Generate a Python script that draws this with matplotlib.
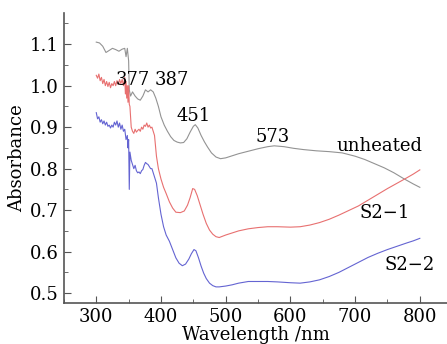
import numpy as np
import matplotlib
matplotlib.use("Agg")
import matplotlib.pyplot as plt
from matplotlib.ticker import MultipleLocator

# unheated
wl_u = [300, 305, 310, 315, 320, 325, 330, 335, 340, 344, 346, 348, 350, 351, 353, 356, 360, 364, 368, 372,
        376, 380, 384, 388, 392, 396, 400, 405, 410, 415, 420, 425, 430, 435, 440, 445, 450, 453, 457, 462,
        467, 472, 478, 485, 492, 500, 510, 520, 535, 550, 565, 575, 590, 605, 620, 640, 660, 680, 700, 715,
        730, 745, 760, 775, 790, 800]
abs_u = [1.105, 1.103, 1.095, 1.08, 1.085, 1.09, 1.087, 1.083, 1.088, 1.09, 1.07, 1.09, 1.06, 0.99, 0.975,
         0.985, 0.975, 0.968, 0.965, 0.975, 0.99, 0.985, 0.99, 0.985, 0.97, 0.95, 0.925, 0.905, 0.89, 0.877,
         0.868, 0.864, 0.862, 0.863, 0.872, 0.888, 0.902, 0.906, 0.898, 0.88, 0.865, 0.852, 0.838, 0.828,
         0.824, 0.826, 0.831, 0.836, 0.842, 0.848, 0.853, 0.855, 0.853, 0.849, 0.846, 0.843, 0.841, 0.838,
         0.83, 0.822, 0.812, 0.802, 0.79, 0.776, 0.763, 0.755]

# S2-1
wl_1 = [300, 302, 304, 306, 308, 310, 312, 314, 316, 318, 320, 322, 324, 326, 328, 330, 332, 334, 336, 338,
        340, 342, 344, 345, 346, 347, 348, 349, 350, 351, 352, 354, 356, 358, 360, 362, 364, 366, 368, 370,
        372, 374, 376, 378, 380, 382, 384, 386, 388, 390, 393, 396, 400, 404, 408, 413, 418, 423, 430, 436,
        441, 445, 449, 452, 456, 460, 465, 470, 475, 480, 485, 490, 495, 500, 510, 520, 535, 550, 565, 580,
        600, 615, 630, 645, 660, 675, 690, 705, 720, 735, 750, 765, 780, 790, 800]
abs_1 = [1.025, 1.018, 1.028, 1.012, 1.02, 1.005, 1.015, 1.0, 1.01, 0.998, 1.008, 0.995, 1.005, 1.0, 1.01,
         1.0, 1.012, 1.003, 1.015, 1.005, 1.015, 1.0, 1.02, 0.98, 1.01, 0.97, 1.0, 0.96, 1.0, 0.955, 0.95,
         0.9, 0.89, 0.885, 0.895, 0.888, 0.892, 0.895, 0.89, 0.9, 0.895, 0.905, 0.902, 0.91, 0.9, 0.905,
         0.898, 0.9, 0.89, 0.88, 0.83, 0.8, 0.775, 0.755, 0.74, 0.72, 0.705, 0.695, 0.694, 0.698, 0.712,
         0.73, 0.752, 0.75, 0.735, 0.715, 0.69, 0.668, 0.652, 0.642, 0.636, 0.634, 0.637, 0.64, 0.645, 0.65,
         0.655, 0.658, 0.66, 0.66, 0.659, 0.66, 0.664, 0.67, 0.678, 0.688, 0.699, 0.71, 0.724, 0.738, 0.752,
         0.765, 0.778, 0.787, 0.797]

# S2-2
wl_2 = [300, 302, 304, 306, 308, 310, 312, 314, 316, 318, 320, 322, 324, 326, 328, 330, 332, 334, 336, 338,
        340, 342, 344, 346, 348, 349, 350, 351, 352, 354, 356, 358, 360, 362, 364, 366, 368, 370, 372, 374,
        376, 378, 380, 382, 384, 386, 388, 390, 393, 396, 400, 404, 408, 413, 418, 423, 428, 433, 438, 443,
        447, 451, 454, 458, 462, 466, 470, 475, 480, 485, 490, 500, 510, 520, 535, 550, 565, 580, 600, 615,
        630, 645, 660, 675, 690, 705, 720, 735, 750, 765, 780, 790, 800]
abs_2 = [0.935, 0.92, 0.925, 0.912, 0.918, 0.908, 0.915, 0.905, 0.912, 0.902, 0.905, 0.898, 0.905, 0.9,
         0.912, 0.905, 0.915, 0.9, 0.91, 0.895, 0.905, 0.89, 0.895, 0.87, 0.88, 0.85, 0.87, 0.75, 0.84, 0.82,
         0.81, 0.8, 0.808, 0.795, 0.79, 0.792, 0.788, 0.795, 0.798, 0.808, 0.815, 0.812, 0.81, 0.805, 0.8,
         0.8, 0.79, 0.78, 0.765, 0.73, 0.69, 0.66, 0.64, 0.625, 0.605, 0.585, 0.572, 0.566, 0.57, 0.582,
         0.595, 0.605, 0.602, 0.585, 0.565, 0.548, 0.535, 0.524, 0.518, 0.515, 0.515, 0.517, 0.52, 0.524,
         0.528, 0.528, 0.528, 0.527, 0.525, 0.524, 0.527, 0.532, 0.54, 0.55, 0.562, 0.574, 0.586, 0.596,
         0.605, 0.613, 0.621, 0.626, 0.632]

plt.rcParams['font.family'] = ['DejaVu Serif']
fs = 13

fig = plt.figure(figsize=(4.47, 3.44), dpi=100)
ax = fig.add_axes([0.143, 0.119, 0.857, 0.843])

ax.plot(wl_u, abs_u, color='#939393', lw=0.8)
ax.plot(wl_1, abs_1, color='#e87070', lw=0.8)
ax.plot(wl_2, abs_2, color='#6464d2', lw=0.8)

# peak labels
ax.text(357, 1.013, '377', fontsize=fs, ha='center', va='center')
ax.text(416, 1.013, '387', fontsize=fs, ha='center', va='center')
ax.text(451, 0.928, '451', fontsize=fs, ha='center', va='center')
ax.text(572, 0.876, '573', fontsize=fs, ha='center', va='center')
ax.text(737, 0.855, 'unheated', fontsize=fs, ha='center', va='center')
ax.text(745, 0.693, 'S2\u22121', fontsize=fs, ha='center', va='center')
ax.text(784, 0.567, 'S2\u22122', fontsize=fs, ha='center', va='center')

ax.set_xlim(250, 842)
ax.set_ylim(0.476, 1.175)
ax.xaxis.set_minor_locator(MultipleLocator(50))
ax.yaxis.set_major_locator(MultipleLocator(0.1))
ax.yaxis.set_minor_locator(MultipleLocator(0.05))
ax.set_xticks([300, 400, 500, 600, 700, 800])
ax.yaxis.set_major_formatter(plt.FuncFormatter(lambda v, p: f'{v:.1f}'))

for s in ['top', 'right']:
    ax.spines[s].set_visible(False)
for s in ['left', 'bottom']:
    ax.spines[s].set_color('#555555')
    ax.spines[s].set_linewidth(1.2)
ax.tick_params(which='both', direction='in', color='#555555', labelsize=fs)
ax.tick_params(which='major', length=5)
ax.tick_params(which='minor', length=3)

ax.set_xlabel('Wavelength /nm', fontsize=fs, labelpad=0)
ax.set_ylabel('Absorbance', fontsize=fs, labelpad=3)

fig.savefig('out.png', dpi=100)
